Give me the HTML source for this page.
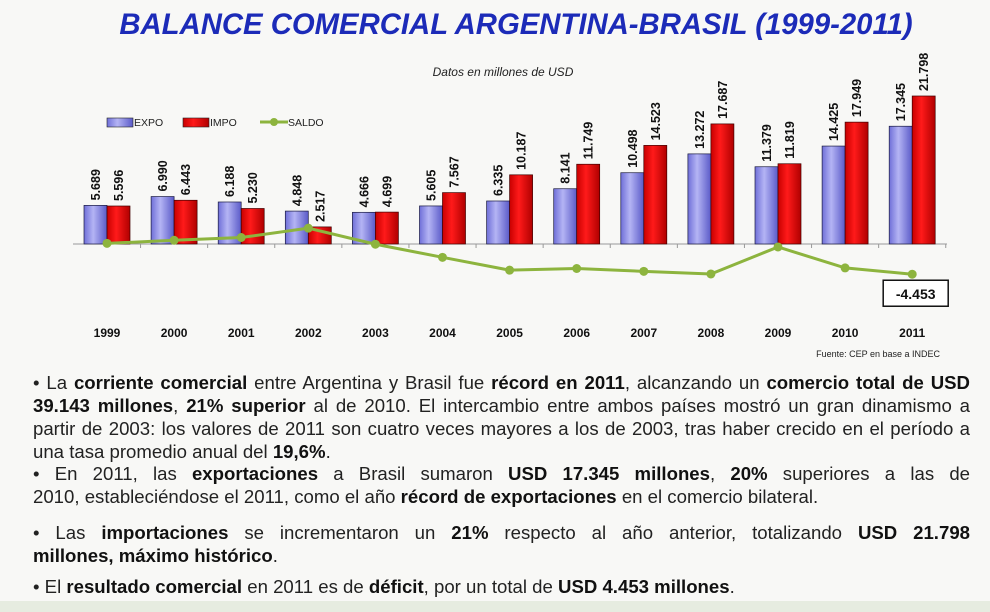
<!DOCTYPE html>
<html><head><meta charset="utf-8"><style>
body{margin:0;width:990px;height:612px;overflow:hidden;background:#f8f8f6;font-family:"Liberation Sans",sans-serif;position:relative}
.ln{position:absolute;left:33px;width:937px;font-size:18.6px;color:#222;white-space:nowrap;text-align:justify;text-align-last:justify;line-height:23px}
.ln.l{text-align-last:left}
b{color:#111}
</style></head><body>
<div style="position:absolute;left:0;top:601px;width:990px;height:11px;background:#e6ece0"></div>
<svg id="chart" width="990" height="365" style="position:absolute;left:0;top:0">
<defs>
<linearGradient id="gb" x1="0" x2="1"><stop offset="0" stop-color="#6f6fd8"/><stop offset="0.4" stop-color="#b4b4f4"/><stop offset="1" stop-color="#5a5ac8"/></linearGradient>
<linearGradient id="gr" x1="0" x2="1"><stop offset="0" stop-color="#c80000"/><stop offset="0.4" stop-color="#ff1a1a"/><stop offset="1" stop-color="#b00000"/></linearGradient>
</defs>
<text x="516" y="34" text-anchor="middle" font-size="29.3" font-weight="bold" font-style="italic" fill="#1c2bb8">BALANCE COMERCIAL ARGENTINA-BRASIL (1999-2011)</text>
<text x="503" y="76" text-anchor="middle" font-size="12" font-style="italic" fill="#222">Datos en millones de USD</text>
<g>
<rect x="107" y="118" width="26" height="9" fill="url(#gb)" stroke="#222" stroke-width="0.6"/>
<text x="134" y="126" font-size="10.5" fill="#222">EXPO</text>
<rect x="183" y="118" width="26" height="9" fill="url(#gr)" stroke="#222" stroke-width="0.6"/>
<text x="210" y="126" font-size="10.5" fill="#222">IMPO</text>
<line x1="260" y1="122" x2="288" y2="122" stroke="#8db43e" stroke-width="3"/>
<circle cx="274" cy="122" r="4" fill="#8db43e"/>
<text x="288" y="126" font-size="10.5" fill="#222">SALDO</text>
</g>
<g id="plot"></g>
<text x="940" y="357" text-anchor="end" font-size="9" fill="#222">Fuente: CEP en base a INDEC</text>
</svg>
<div class="ln" style="top:371px">• La <b>corriente comercial</b> entre Argentina y Brasil fue <b>récord en 2011</b>, alcanzando un <b>comercio total de USD</b></div>
<div class="ln" style="top:394px"><b>39.143 millones</b>, <b>21% superior</b> al de 2010. El intercambio entre ambos países mostró un gran dinamismo a</div>
<div class="ln" style="top:417px">partir de 2003: los valores de 2011 son cuatro veces mayores a los de 2003, tras haber crecido en el período a</div>
<div class="ln l" style="top:440px">una tasa promedio anual del <b>19,6%</b>.</div>
<div class="ln" style="top:462px">• En 2011, las <b>exportaciones</b> a Brasil sumaron <b>USD 17.345 millones</b>, <b>20%</b> superiores a las de</div>
<div class="ln l" style="top:485px">2010, estableciéndose el 2011, como el año <b>récord de exportaciones</b> en el comercio bilateral.</div>
<div class="ln" style="top:521px">• Las <b>importaciones</b> se incrementaron un <b>21%</b> respecto al año anterior, totalizando <b>USD 21.798</b></div>
<div class="ln l" style="top:544px"><b>millones, máximo histórico</b>.</div>
<div class="ln l" style="top:575px">• El <b>resultado comercial</b> en 2011 es de <b>déficit</b>, por un total de <b>USD 4.453 millones</b>.</div>
<script>
const years=["1999","2000","2001","2002","2003","2004","2005","2006","2007","2008","2009","2010","2011"];
const expo=[5689,6990,6188,4848,4666,5605,6335,8141,10498,13272,11379,14425,17345];
const impo=[5596,6443,5230,2517,4699,7567,10187,11749,14523,17687,11819,17949,21798];
const saldo=[93,547,958,2331,-33,-1962,-3852,-3608,-4025,-4415,-440,-3524,-4453];
const NS="http://www.w3.org/2000/svg";
const g=document.getElementById('plot');
const x0=107,step=67.1,base=244,k=148/21798,bw=23;
const xc=i=>x0+i*step;
const yv=v=>base-v*k;
const fmt=v=>{const s=Math.abs(v).toString();const r=s.length>3?s.slice(0,-3)+'.'+s.slice(-3):s;return (v<0?'-':'')+r;};
function mk(t,a){const e=document.createElementNS(NS,t);for(const n in a)e.setAttribute(n,a[n]);g.appendChild(e);return e;}
const ax=mk('line',{x1:73,y1:base,x2:947,y2:base,stroke:'#999','stroke-width':1});


years.forEach((y,i)=>{
  const c=xc(i);
  const tk=mk('line',{x1:c+step/2,y1:base,x2:c+step/2,y2:base+4,stroke:'#999'});
  
  
  const be=mk('rect',{x:c-bw,y:yv(expo[i]),width:bw,height:base-yv(expo[i]),fill:'url(#gb)',stroke:'#1a1a40','stroke-width':0.7});
  
  
  const bi=mk('rect',{x:c,y:yv(impo[i]),width:bw,height:base-yv(impo[i]),fill:'url(#gr)',stroke:'#400000','stroke-width':0.7});
  
  
  [[expo[i],c-bw/2],[impo[i],c+bw/2]].forEach(([v,xx],j)=>{
    const t=mk('text',{x:0,y:0,transform:`translate(${xx+4.5},${yv(v)-5}) rotate(-90)`,'font-size':12.5,'font-weight':'bold',fill:'#111'});
    t.textContent=fmt(v);
    
    
  });
  const yl=mk('text',{x:c,y:337,'text-anchor':'middle','font-size':12,'font-weight':'bold',fill:'#111'});
  yl.textContent=y;
  
  
});
const pl=mk('polyline',{points:saldo.map((v,i)=>xc(i)+','+yv(v)).join(' '),fill:'none',stroke:'#8db43e','stroke-width':3});


saldo.forEach((v,i)=>{
  const p=mk('circle',{cx:xc(i),cy:yv(v),r:4.5,fill:'#8db43e'});
  
  
});
const li=saldo.length-1;
const bx=mk('rect',{x:xc(li)-29,y:yv(saldo[li])+6,width:65,height:26,fill:'#fff',stroke:'#111','stroke-width':1.5});


const bt=mk('text',{x:xc(li)+3.5,y:yv(saldo[li])+25,'text-anchor':'middle','font-size':14,'font-weight':'bold',fill:'#111'});
bt.textContent=fmt(saldo[li]);


</script>
</body></html>
